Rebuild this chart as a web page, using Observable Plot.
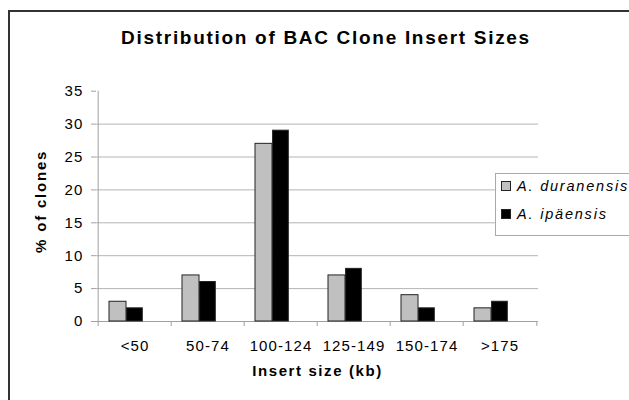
<!DOCTYPE html>
<html>
<head>
<meta charset="utf-8">
<script src="https://cdn.jsdelivr.net/npm/d3@7"></script>
<script src="https://cdn.jsdelivr.net/npm/@observablehq/plot@0.6"></script>
<style>
  html, body { margin: 0; padding: 0; background: #fff; overflow: hidden; }
  #wrap { position: relative; width: 629px; height: 400px; overflow: hidden; font-family: "Liberation Sans", Arial, sans-serif; }
  #border { position: absolute; left: 8px; top: 10px; width: 700px; height: 500px; border: 2px solid #333; box-sizing: border-box; }
  #title { position: absolute; left: 0; width: 652px; top: 27px; text-align: center; font-weight: bold; font-size: 19px; letter-spacing: 1.7px; color: #000; white-space: nowrap; }
  #chart { position: absolute; left: 0; top: 0; }
  #legend { position: absolute; left: 495px; top: 173px; width: 200px; height: 63px; border: 1px solid #aaa; box-sizing: border-box; background: #fff; }
  .item { position: absolute; left: 5px; font-style: italic; font-size: 14.5px; letter-spacing: 1.8px; white-space: nowrap; }
  .sw { display: inline-block; width: 8px; height: 8px; border: 1px solid #222; margin-right: 6px; vertical-align: 0px; }
</style>
</head>
<body>
<div id="wrap">
  <div id="border"></div>
  <div id="title">Distribution of BAC Clone Insert Sizes</div>
  <div id="chart"></div>
  <div id="legend"></div>
</div>
<script>
const categories = ["<50", "50-74", "100-124", "125-149", "150-174", ">175"];
const series = ["A. duranensis", "A. ipäensis"];
const duranensis = [3, 7, 27, 7, 4, 2];
const ipaensis = [2, 6, 29, 8, 2, 3];
const yTicks = [0, 5, 10, 15, 20, 25, 30, 35];
const colors = ["#c0c0c0", "#000000"];

const rows = [];
categories.forEach((c, i) => {
  rows.push({category: c, series: series[0], value: duranensis[i]});
  rows.push({category: c, series: series[1], value: ipaensis[i]});
});

const W = 629, H = 400;
const mL = 96, mR = 91, mT = 90.7, mB = 79;
const step = (W - mL - mR) / categories.length;

const chart = Plot.plot({
  width: W,
  height: H,
  marginLeft: mL,
  marginRight: mR,
  marginTop: mT,
  marginBottom: mB,
  style: {fontFamily: "'Liberation Sans', Arial, sans-serif", fontSize: "15px", letterSpacing: "1.1px", color: "#000", background: "transparent"},
  x: {domain: categories, padding: 0, axis: null},
  y: {domain: [0, 35], axis: null},
  color: {domain: series, range: colors},
  marks: [
    Plot.ruleY(yTicks.filter(t => t > 0 && t < 35), {stroke: "#b4b4b4", strokeWidth: 1}),
    Plot.ruleY([0], {stroke: "#a0a0a0", strokeWidth: 1}),
    Plot.ruleX([categories[0]], {x: d => d, dx: -step / 2, y1: 0, y2: 35, stroke: "#a0a0a0"}),
    Plot.axisY({ticks: yTicks, tickSize: 5, tickPadding: 8, stroke: "#a0a0a0", color: "#000", fontSize: 15, label: null}),
    Plot.axisX({tickSize: 5, tickFormat: () => "", dx: -step / 2, stroke: "#a0a0a0", label: null}),
    Plot.axisX([categories[categories.length - 1]], {tickSize: 5, tickFormat: () => "", dx: step / 2, stroke: "#a0a0a0", label: null}),
    Plot.axisX({tickSize: 0, tickPadding: 19, color: "#000", fontSize: 15, label: null}),
    Plot.barY(rows.filter(d => d.series === series[0]), {x: "category", y: "value", fill: "series", stroke: "#222", strokeWidth: 1, insetLeft: 11, insetRight: 45}),
    Plot.barY(rows.filter(d => d.series === series[1]), {x: "category", y: "value", fill: "series", stroke: "#222", strokeWidth: 1, insetLeft: 28.6, insetRight: 28.7}),
    Plot.text(["% of clones"], {frameAnchor: "left", textAnchor: "middle", dx: -55, dy: -5, rotate: -90, fontWeight: "bold", fontSize: 15}),
    Plot.text(["Insert size (kb)"], {frameAnchor: "bottom", dy: 54, fontWeight: "bold", fontSize: 15})
  ]
});
chart.querySelectorAll("text").forEach(t => {
  if (t.textContent === "Insert size (kb)") t.style.letterSpacing = "1.6px";
  if (t.textContent === "% of clones") t.style.letterSpacing = "1.8px";
});
document.getElementById("chart").appendChild(chart);

const legend = document.getElementById("legend");
series.forEach((s, i) => {
  const item = document.createElement("div");
  item.className = "item";
  item.style.top = (i === 0 ? 4 : 32) + "px";
  const sw = document.createElement("span");
  sw.className = "sw";
  sw.style.background = colors[i];
  item.appendChild(sw);
  item.appendChild(document.createTextNode(s));
  legend.appendChild(item);
});
</script>
</body>
</html>
